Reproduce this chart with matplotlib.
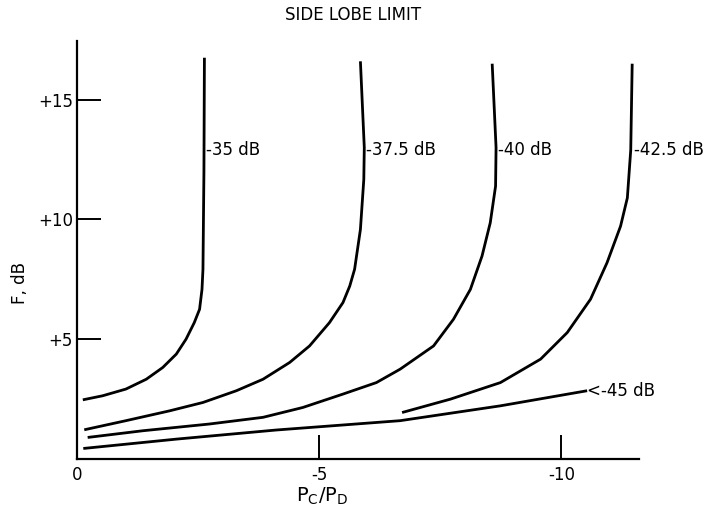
import matplotlib
matplotlib.use("Agg")
import matplotlib.pyplot as plt

plt.rcParams['font.family'] = ['Liberation Sans Narrow', 'DejaVu Sans']
plt.rcParams['mathtext.fontset'] = 'custom'
plt.rcParams['mathtext.rm'] = 'DejaVu Sans'
plt.rcParams['mathtext.it'] = 'DejaVu Sans'

# curves (x = Pc/Pd, y = F in dB)
x_35 = [-0.12, -0.53, -1.01, -1.43, -1.77, -2.05, -2.25, -2.42, -2.53, -2.58, -2.6, -2.62, -2.63]
y_35 = [2.47, 2.64, 2.92, 3.33, 3.82, 4.38, 5.0, 5.69, 6.25, 7.08, 7.92, 12.0, 16.75]

x_375 = [-0.15, -1.01, -1.91, -2.6, -3.29, -3.84, -4.39, -4.8, -5.21, -5.49, -5.63, -5.73, -5.85, -5.92, -5.93, -5.85]
y_375 = [1.22, 1.6, 2.01, 2.36, 2.85, 3.33, 4.03, 4.72, 5.69, 6.53, 7.22, 7.92, 9.58, 11.67, 13.0, 16.6]

x_40 = [-0.22, -1.36, -2.73, -3.84, -4.66, -5.49, -6.18, -6.67, -7.36, -7.77, -8.12, -8.36, -8.53, -8.64, -8.65, -8.57]
y_40 = [0.9, 1.18, 1.46, 1.74, 2.15, 2.71, 3.19, 3.75, 4.72, 5.83, 7.08, 8.47, 9.86, 11.39, 13.0, 16.5]

x_425 = [-6.71, -7.71, -8.74, -9.57, -10.12, -10.6, -10.94, -11.22, -11.36, -11.43, -11.46]
y_425 = [1.94, 2.5, 3.19, 4.17, 5.28, 6.67, 8.19, 9.72, 10.9, 12.9, 16.5]

x_45 = [-0.13, -2.05, -4.11, -6.67, -8.74, -10.53]
y_45 = [0.44, 0.83, 1.21, 1.6, 2.22, 2.85]

curve_labels = ['-35 dB', '-37.5 dB', '-40 dB', '-42.5 dB']
label_x = [-2.66, -5.96, -8.69, -11.5]
label_y = 12.9

fig = plt.figure(figsize=(7.11, 5.12), dpi=100)
ax = fig.add_axes([0.1083, 0.1035, 0.7904, 0.8165])

for xs, ys in [(x_35, y_35), (x_375, y_375), (x_40, y_40), (x_425, y_425), (x_45, y_45)]:
    ax.plot(xs, ys, color='black', lw=2.0, solid_capstyle='butt')

for lab, lx in zip(curve_labels, label_x):
    ax.text(lx, label_y, lab, ha='left', va='center', fontsize=12)
ax.text(x_45[-1], y_45[-1], '<-45 dB', ha='left', va='center', fontsize=12)

ax.set_xlim(0, -11.6)
ax.set_ylim(0, 17.45)
ax.spines['top'].set_visible(False)
ax.spines['right'].set_visible(False)
for s in ['left', 'bottom']:
    ax.spines[s].set_linewidth(1.6)

ax.set_xticks([0, -5, -10])
ax.set_xticklabels(['0', '-5', '-10'])
ax.set_yticks([5, 10, 15])
ax.set_yticklabels(['+5', '+10', '+15'])
ax.tick_params(axis='both', direction='in', length=17, width=1.4, labelsize=12)
ax.tick_params(axis='x', pad=5)
ax.tick_params(axis='y', pad=3)

ax.set_xlabel(r'$\mathrm{P_C/P_D}$', fontsize=14)
ax.xaxis.set_label_coords(0.436, -0.065)
ax.set_ylabel('F, dB', fontsize=12)
ax.yaxis.set_label_coords(-0.085, 0.42)

fig.text(0.497, 0.97, 'SIDE LOBE LIMIT', ha='center', va='center', fontsize=12)

fig.savefig('out.png', dpi=100)
